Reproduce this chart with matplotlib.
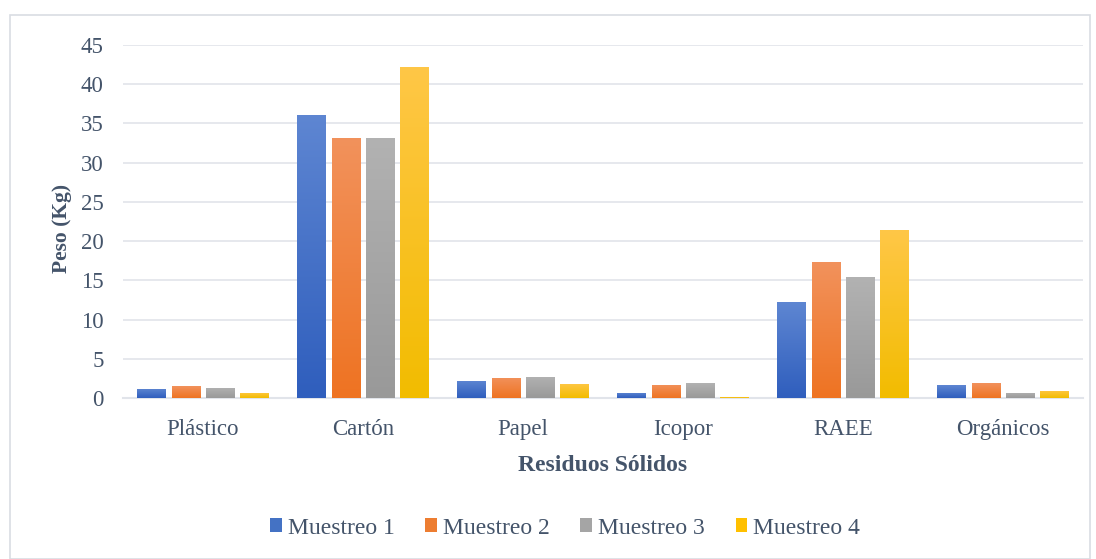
import matplotlib
matplotlib.use("Agg")
import matplotlib.pyplot as plt
import numpy as np
from matplotlib.patches import Rectangle
from matplotlib.colors import LinearSegmentedColormap

categories = ["Plástico", "Cartón", "Papel", "Icopor", "RAEE", "Orgánicos"]
series_names = ["Muestreo 1", "Muestreo 2", "Muestreo 3", "Muestreo 4"]
muestreo1 = [1.15, 36.1, 2.2, 0.65, 12.2, 1.65]
muestreo2 = [1.5, 33.2, 2.55, 1.7, 17.3, 1.9]
muestreo3 = [1.3, 33.2, 2.7, 1.9, 15.4, 0.65]
muestreo4 = [0.65, 42.2, 1.8, 0.15, 21.4, 0.9]
yticks = [0, 5, 10, 15, 20, 25, 30, 35, 40, 45]

series = [muestreo1, muestreo2, muestreo3, muestreo4]
base_colors = ["#4472C4", "#ED7D31", "#A5A5A5", "#FFC000"]
grad = [("#5E86D2", "#2F5EBD"), ("#F2925C", "#EE7322"),
        ("#B2B2B2", "#999999"), ("#FFC747", "#F2BC00")]

plt.rcParams['font.family'] = ['Liberation Serif', 'DejaVu Serif']
txt = "#44546A"
gridc = "#E1E4EA"

fig = plt.figure(figsize=(10.96, 5.59), dpi=100)
fig.patches.append(Rectangle((10/1096, 0), 1080/1096, 1 - 15/559, transform=fig.transFigure,
                             fill=False, edgecolor="#D9DDE3", linewidth=1.2))
ax = fig.add_axes([123/1096, 1 - 398/559, 960/1096, 353/559])
ax.set_xlim(0, 6)
ax.set_ylim(0, 45)

width = 0.178
step = 0.215
for i, vals in enumerate(series):
    cmap = LinearSegmentedColormap.from_list("g%d" % i, [grad[i][1], grad[i][0]])
    for j, v in enumerate(vals):
        x0 = j + 0.5 + (i - 1.5) * step - width / 2
        rect = Rectangle((x0, 0), width, v, facecolor="none", edgecolor="none", zorder=3)
        ax.add_patch(rect)
        g = np.linspace(0, 1, 256).reshape(-1, 1)
        im = ax.imshow(g, cmap=cmap, origin="lower", aspect="auto",
                       extent=(x0, x0 + width, 0, max(v, 0.01)), zorder=3,
                       interpolation="bilinear")
        im.set_clip_path(rect)
ax.set_xlim(0, 6)
ax.set_ylim(0, 45)

ax.set_yticks(yticks)
ax.set_xticks(np.arange(6) + 0.5)
ax.set_xticklabels(categories)
ax.tick_params(axis="both", length=0, labelsize=16.5, colors=txt)
ax.tick_params(axis="x", pad=15)
ax.tick_params(axis="y", pad=14)
ax.grid(axis="y", color=gridc, linewidth=1.2, zorder=0)
ax.set_axisbelow(True)
for s in ["top", "right", "left"]:
    ax.spines[s].set_visible(False)
ax.spines["bottom"].set_color(gridc)
ax.spines["bottom"].set_linewidth(1.5)

ax.set_ylabel("Peso (Kg)", fontsize=15.5, fontweight="bold", color=txt)
ax.yaxis.set_label_coords(-0.053, 0.48)
ax.set_xlabel("Residuos Sólidos", fontsize=17, fontweight="bold", color=txt, labelpad=11)

handles = [Rectangle((0, 0), 1, 1, facecolor=c) for c in base_colors]
fig.legend(handles, series_names, loc="center", bbox_to_anchor=(565/1096, 1 - 528/559),
           ncol=4, frameon=False, fontsize=17, labelcolor=txt, handlelength=0.5,
           handleheight=0.5, handletextpad=0.25, columnspacing=1.3)

fig.savefig("out.png", dpi=100)
